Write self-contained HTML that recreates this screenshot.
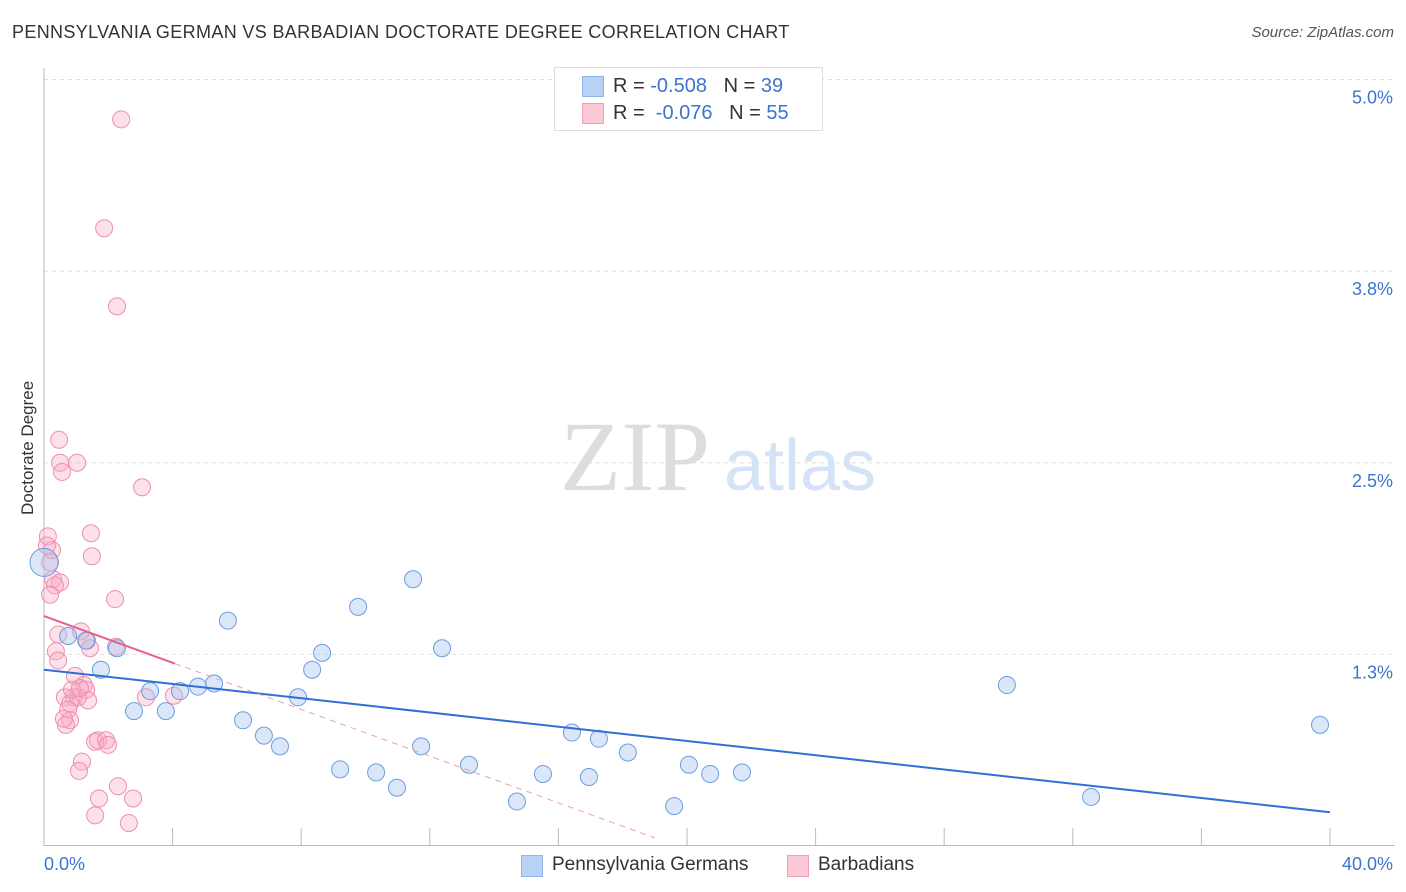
<!DOCTYPE html>
<html><head><meta charset="utf-8"><style>
body{margin:0;background:#fff;font-family:"Liberation Sans",sans-serif;}
#wrap{position:relative;width:1406px;height:892px;overflow:hidden;}
.t{position:absolute;white-space:nowrap;}
</style></head><body>
<div id="wrap">
<div class="t" style="left:12px;top:22px;font-size:18px;color:#333;letter-spacing:0.35px">PENNSYLVANIA GERMAN VS BARBADIAN DOCTORATE DEGREE CORRELATION CHART</div>
<div class="t" style="right:12px;top:24px;font-size:15px;color:#555;font-style:italic">Source: ZipAtlas.com</div>
<div class="t" style="left:-32px;top:445px;font-size:17px;color:#333;transform:rotate(-90deg);transform-origin:center;width:120px;text-align:center">Doctorate Degree</div>
<svg id="svg" width="1406" height="892" style="position:absolute;left:0;top:0"></svg>
<div style="position:absolute;left:554px;top:67px;width:267px;height:62px;border:1px solid #ddd;background:#fff;font-size:20px;color:#333">
 <div style="position:absolute;left:27px;top:8px;width:20px;height:19px;background:#b8d2f5;border:1px solid #8fb4e8"></div>
 <div class="t" style="left:58px;top:7px">R = <span style="color:#3d74d1">-0.508</span>&nbsp;&nbsp;&nbsp;N = <span style="color:#3d74d1">39</span></div>
 <div style="position:absolute;left:27px;top:35px;width:20px;height:19px;background:#fbc8d6;border:1px solid #f0a0b8"></div>
 <div class="t" style="left:58px;top:34px">R = &nbsp;<span style="color:#3d74d1">-0.076</span>&nbsp;&nbsp;&nbsp;N = <span style="color:#3d74d1">55</span></div>
</div>
<div style="position:absolute;left:521px;top:854px;font-size:19px;color:#333">
 <div style="position:absolute;left:0;top:1px;width:20px;height:20px;background:#b8d2f5;border:1px solid #8fb4e8"></div>
 <div class="t" style="left:31px;top:0">Pennsylvania Germans</div></div>
<div style="position:absolute;left:787px;top:854px;font-size:19px;color:#333">
 <div style="position:absolute;left:0;top:1px;width:20px;height:20px;background:#fbc8d6;border:1px solid #f0a0b8"></div>
 <div class="t" style="left:31px;top:0">Barbadians</div></div>
</div>
<script>
const xTicks=["0.0%","40.0%"];
const yTickVals=[5.0,3.75,2.5,1.25];
const yTickLabels=["5.0%","3.8%","2.5%","1.3%"];
const blueX=[0.0,0.75,1.31,1.77,2.27,2.80,3.30,3.79,4.23,4.79,5.29,5.72,6.19,6.84,7.34,7.90,8.34,8.65,9.21,9.77,10.33,10.98,11.48,11.73,12.38,13.22,14.71,15.52,16.42,16.95,17.26,18.16,19.60,20.06,20.72,21.71,29.95,32.57,39.69];
const blueY=[1.85,1.37,1.34,1.15,1.29,0.88,1.01,0.88,1.01,1.04,1.06,1.47,0.82,0.72,0.65,0.97,1.15,1.26,0.50,1.56,0.48,0.38,1.74,0.65,1.29,0.53,0.29,0.47,0.74,0.45,0.70,0.61,0.26,0.53,0.47,0.48,1.05,0.32,0.79];
const pinkX=[2.40,1.87,2.27,0.47,0.50,0.56,1.03,3.05,0.12,1.46,0.25,1.49,0.19,0.28,0.50,0.34,0.19,2.21,1.15,0.44,1.34,2.24,1.43,0.37,0.44,0.96,1.24,1.31,0.65,0.93,1.37,1.06,0.81,0.75,3.17,4.04,0.81,0.68,1.68,1.59,1.93,1.99,1.18,1.09,2.30,1.71,2.77,1.59,2.64,0.87,0.62,1.12,0.09];
const pinkY=[4.74,4.03,3.52,2.65,2.50,2.44,2.50,2.34,2.02,2.04,1.93,1.89,1.85,1.74,1.72,1.70,1.64,1.61,1.40,1.38,1.34,1.30,1.29,1.27,1.21,1.11,1.05,1.02,0.97,0.97,0.95,0.97,0.93,0.89,0.97,0.98,0.82,0.79,0.69,0.68,0.69,0.66,0.55,0.49,0.39,0.31,0.31,0.20,0.15,1.02,0.83,1.03,1.96];
const blueTrend=[1.15,0.22];
const pinkTrend=[1.50,-0.076];
const X=v=>44+v*32.15, Y=v=>846-v*153.3;
const svg=document.getElementById('svg');const NS="http://www.w3.org/2000/svg";
function mk(t,a,name){const e=document.createElementNS(NS,t);for(const k in a)e.setAttribute(k,a[k]);


svg.appendChild(e);return e;}
yTickVals.forEach((v,i)=>{mk('line',{x1:44,x2:1395,y1:Y(v),y2:Y(v),stroke:'#ddd','stroke-dasharray':'4,4'},'gridline');
const t=mk('text',{x:1393,y:Y(v)+24,'text-anchor':'end','font-size':18,fill:'#3d74d1','font-family':'Liberation Sans'},'y-tick-label');t.textContent=yTickLabels[i];});
mk('line',{x1:44,x2:44,y1:68,y2:846,stroke:'#bbb'},'y-axis');
mk('line',{x1:44,x2:1395,y1:845.5,y2:845.5,stroke:'#bbb'},'x-axis');
for(let i=1;i<=10;i++){mk('line',{x1:X(i*4),x2:X(i*4),y1:828,y2:846,stroke:'#bbb'},'x-tick');}
let t=mk('text',{x:44,y:870,'font-size':18,fill:'#3d74d1','font-family':'Liberation Sans'},'x-tick-label');t.textContent=xTicks[0];
t=mk('text',{x:1393,y:870,'text-anchor':'end','font-size':18,fill:'#3d74d1','font-family':'Liberation Sans'},'x-tick-label');t.textContent=xTicks[1];
t=mk('text',{x:635,y:490,'text-anchor':'middle','font-size':100,fill:'#ddd','font-family':'Liberation Serif'},'watermark-zip');t.textContent="ZIP";
t=mk('text',{x:800,y:490,'text-anchor':'middle','font-size':72,fill:'#d5e3f7','font-family':'Liberation Sans'},'watermark-atlas');t.textContent="atlas";
pinkX.forEach((x,i)=>mk('circle',{cx:X(x),cy:Y(pinkY[i]),r:8.5,fill:'rgba(248,170,195,0.35)',stroke:'#ee8fae','stroke-width':1},'pink-point'));
blueX.forEach((x,i)=>mk('circle',{cx:X(x),cy:Y(blueY[i]),r:i==0?14:8.5,fill:'rgba(160,196,240,0.4)',stroke:'#6d9de0','stroke-width':1},'blue-point'));
mk('line',{x1:X(0),y1:Y(blueTrend[0]),x2:X(40),y2:Y(blueTrend[1]),stroke:'#2f6fd6','stroke-width':2},'blue-trendline');
const px1=4.07;
const pv=x=>pinkTrend[0]+x*(pinkTrend[0]-1.19)/-px1;
mk('line',{x1:X(0),y1:Y(pinkTrend[0]),x2:X(px1),y2:Y(pv(px1)),stroke:'#e8608a','stroke-width':2},'pink-trendline');
mk('line',{x1:X(px1),y1:Y(pv(px1)),x2:X(19.0),y2:Y(pv(19.0)),stroke:'#e8a0b8','stroke-width':1,'stroke-dasharray':'6,5'},'pink-trendline-extension');
</script>
</body></html>
